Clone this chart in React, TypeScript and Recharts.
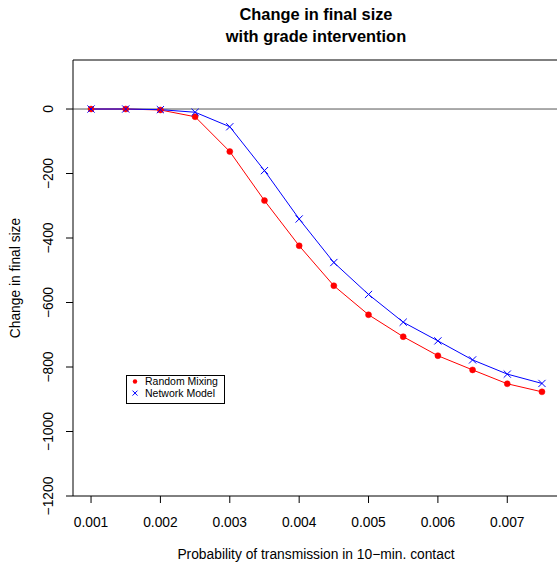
import React from "react";
import { LineChart, Line, XAxis, YAxis, ReferenceLine } from "recharts";

const probs = [0.001, 0.0015, 0.002, 0.0025, 0.003, 0.0035, 0.004, 0.0045, 0.005, 0.0055, 0.006, 0.0065, 0.007, 0.0075];
const randomMixing = [0, 0, -3, -24, -132, -284, -424, -548, -638, -706, -765, -809, -852, -877];
const networkModel = [0, 0, -2, -10, -55, -191, -341, -476, -575, -661, -719, -778, -822, -851];
const xTicks = [0.001, 0.002, 0.003, 0.004, 0.005, 0.006, 0.007];
const yTicks = [0, -200, -400, -600, -800, -1000, -1200];

const data = probs.map((p, i) => ({ x: p, rm: randomMixing[i], nm: networkModel[i] }));

const FONT = "'Liberation Sans', Arial, Helvetica, sans-serif";
const AXFS = 13.8;

const Cross = (props: any) => {
  const { cx, cy } = props;
  if (cx == null || cy == null) return null;
  const s = 3.6;
  return (
    <g>
      <line x1={cx - s} y1={cy - s} x2={cx + s} y2={cy + s} stroke="#0000FF" strokeWidth={1} />
      <line x1={cx - s} y1={cy + s} x2={cx + s} y2={cy - s} stroke="#0000FF" strokeWidth={1} />
    </g>
  );
};

const YTick = (props: any) => {
  const { x, y, payload } = props;
  const tx = x - 11;
  return (
    <text x={tx} y={y} transform={`rotate(-90 ${tx} ${y})`} textAnchor="middle" fontSize={AXFS} fontFamily={FONT} fill="#000">
      {String(payload.value).replace("-", "\u2212")}
    </text>
  );
};

const XTick = (props: any) => {
  const { x, y, payload } = props;
  return (
    <text x={x} y={y} dy="0.71em" textAnchor="middle" fontSize={AXFS} fontFamily={FONT} fill="#000">
      {payload.value.toFixed(3)}
    </text>
  );
};

export default function App() {
  return (
    <div style={{ position: "absolute", left: 0, top: 0, width: 557, height: 563, overflow: "hidden", background: "#fff", fontFamily: FONT }}>
      <LineChart width={565} height={563} data={data} margin={{ top: 60, right: 5, bottom: 37, left: 13 }}>
        <XAxis
          dataKey="x"
          type="number"
          domain={[0.00074, 0.00776]}
          allowDataOverflow
          ticks={xTicks}
          tick={<XTick />}
          tickSize={7}
          tickMargin={14.5}
          height={30}
          stroke="#000"
          tickLine={{ stroke: "#000" }}
          axisLine={{ stroke: "#000" }}
        />
        <YAxis
          type="number"
          domain={[-1200, 152]}
          allowDataOverflow
          ticks={yTicks}
          tick={<YTick />}
          tickSize={7}
          tickMargin={2}
          width={60}
          stroke="#000"
          tickLine={{ stroke: "#000" }}
          axisLine={{ stroke: "#000" }}
        />
        <ReferenceLine y={152} stroke="#000" strokeWidth={1} ifOverflow="extendDomain" />
        <ReferenceLine y={0} stroke="#555" strokeWidth={1} />
        <Line
          dataKey="rm"
          stroke="#FF0000"
          strokeWidth={1}
          dot={{ r: 3, fill: "#FF0000", stroke: "#FF0000", strokeWidth: 0.5 }}
          isAnimationActive={false}
        />
        <Line dataKey="nm" stroke="#0000FF" strokeWidth={1} dot={<Cross />} isAnimationActive={false} />
      </LineChart>

      <div style={{ position: "absolute", left: 0, top: 4, width: 632, textAlign: "center", fontSize: 16.4, fontWeight: "bold", lineHeight: "21.5px", color: "#000" }}>
        <div>Change in final size</div>
        <div>with grade intervention</div>
      </div>

      <div style={{ position: "absolute", left: 0, top: 547, width: 632, textAlign: "center", fontSize: AXFS, lineHeight: "16px", color: "#000" }}>
        Probability of transmission in 10−min. contact
      </div>

      <div style={{ position: "absolute", left: 16 - 150, top: 278 - 8, width: 300, height: 16, textAlign: "center", fontSize: AXFS, lineHeight: "16px", transform: "rotate(-90deg)", color: "#000" }}>
        Change in final size
      </div>

      <div style={{ position: "absolute", left: 126, top: 375, width: 99, height: 29, boxSizing: "border-box", border: "1px solid #000", background: "#fff" }}>
        <svg width={97} height={27} style={{ position: "absolute", left: 0, top: 0 }}>
          <circle cx={8} cy={5.5} r={2.2} fill="#FF0000" />
          <line x1={5.5} y1={14.6} x2={10.5} y2={19.6} stroke="#0000FF" strokeWidth={1} />
          <line x1={5.5} y1={19.6} x2={10.5} y2={14.6} stroke="#0000FF" strokeWidth={1} />
          <text x={18} y={9.3} fontSize={10.5} fontFamily={FONT} fill="#000">Random Mixing</text>
          <text x={18} y={20.9} fontSize={10.5} fontFamily={FONT} fill="#000">Network Model</text>
        </svg>
      </div>
    </div>
  );
}
